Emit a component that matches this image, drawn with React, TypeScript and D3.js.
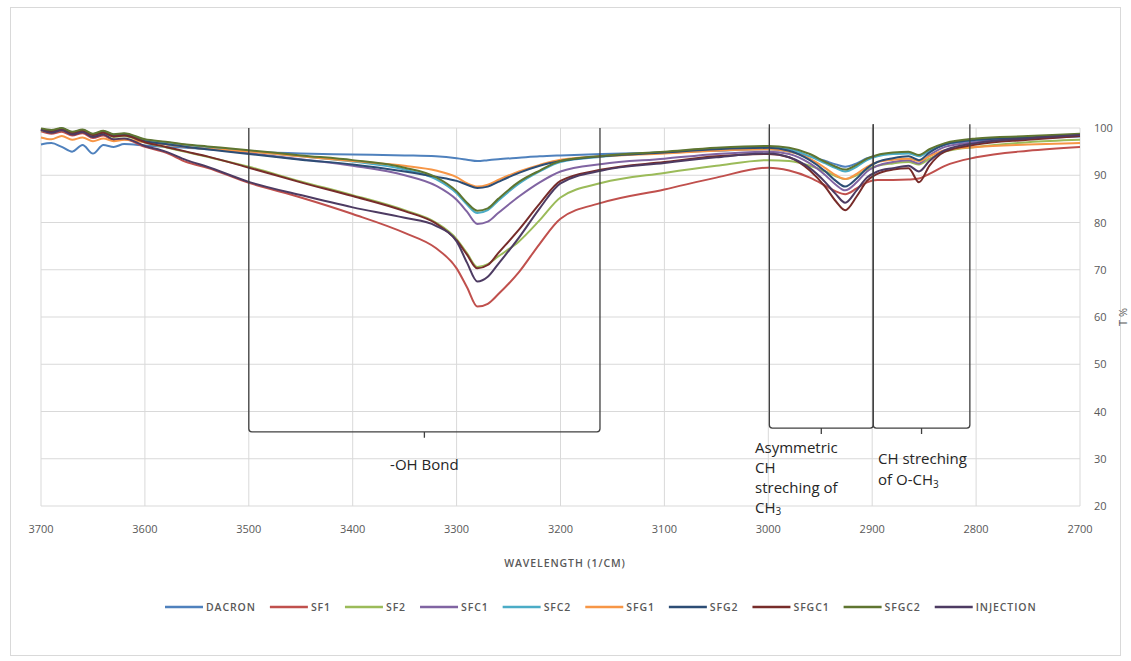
import React from "react";
import * as d3 from "d3";

// Wavenumbers (1/cm) at which the spectra were read
const W = [3700, 3690, 3680, 3670, 3660, 3650, 3640, 3630, 3620,
  3600, 3580, 3560, 3540, 3500,
  3450, 3400, 3350, 3320, 3300,
  3290, 3280, 3270, 3260, 3240,
  3220, 3200, 3160, 3100, 3050,
  3000, 2980, 2960, 2945, 2935,
  2926, 2915, 2905, 2895, 2880,
  2865, 2855, 2845, 2830, 2800,
  2750, 2700];

const DACRON = [96.5, 96.8, 96.0, 95.0, 96.4, 94.6, 96.4, 96.0, 96.6,
  96.3, 96.0, 95.8, 95.5, 95.0,
  94.6, 94.4, 94.2, 94.0, 93.6,
  93.3, 93.0, 93.2, 93.4, 93.7,
  94.0, 94.2, 94.5, 94.8, 95.2,
  95.5, 95.0, 94.0, 93.0, 92.3,
  91.8, 92.5, 93.6, 94.2, 94.6,
  94.7, 94.2, 95.3, 96.5, 97.3,
  97.8, 98.2];
const SF1 = [99.3, 98.8, 99.2, 98.4, 98.9, 97.9, 98.4, 97.4, 97.6,
  96.0, 94.8, 92.8, 91.6, 88.4,
  85.3, 81.8, 77.8, 74.6, 70.3,
  66.3, 62.2, 62.8, 64.8, 69.5,
  75.5, 80.8, 84.2, 87.0, 89.5,
  91.6, 91.0, 89.5, 87.8, 86.6,
  86.0, 87.2, 88.5, 89.0, 89.0,
  89.1, 89.3, 90.3, 92.0, 93.8,
  95.2, 96.0];
const SF2 = [99.5, 99.1, 99.6, 98.8, 99.2, 98.4, 98.9, 98.1, 98.3,
  96.9, 95.9, 94.9, 93.9, 91.8,
  88.7, 85.8, 82.6, 80.0, 76.5,
  73.5, 70.6, 71.2, 72.8, 76.0,
  80.5, 85.3, 88.4, 90.5, 92.0,
  93.2, 93.0, 92.0, 90.8, 89.8,
  89.2, 90.0, 91.2, 92.0, 92.5,
  92.8, 92.3, 93.5, 95.0, 96.0,
  97.0, 97.5];
const SFC1 = [99.6, 99.2, 99.7, 98.9, 99.4, 98.6, 99.1, 98.4, 98.6,
  97.2, 96.6, 96.0, 95.6, 94.7,
  93.4, 92.0, 90.0, 87.8, 84.8,
  82.3, 79.7, 80.2, 82.0, 85.5,
  88.5, 90.8, 92.4, 93.5, 94.5,
  95.0, 94.5, 92.5, 90.0, 88.0,
  86.8, 88.5, 90.8, 92.0, 92.8,
  93.2, 92.5, 94.2, 96.0, 97.0,
  97.8, 98.3];
const SFC2 = [99.7, 99.4, 99.9, 99.1, 99.6, 98.7, 99.3, 98.6, 98.8,
  97.5, 97.0, 96.4, 96.0, 95.1,
  94.0, 92.9, 91.2, 89.2, 86.2,
  83.8, 82.0, 82.6, 84.6, 88.2,
  90.8, 92.8, 93.9, 94.9, 95.6,
  95.8, 95.5, 94.0, 92.5, 91.5,
  90.8, 91.8, 93.2, 94.0, 94.5,
  94.6, 94.0, 95.2, 96.5, 97.5,
  98.0, 98.5];
const SFG1 = [98.0, 97.6, 98.3, 97.5, 98.0, 97.2, 97.8, 97.2, 97.5,
  97.0, 96.5, 96.0, 95.6, 95.0,
  94.0, 93.0, 92.0, 91.0, 89.6,
  88.3, 87.6, 88.0, 89.0, 90.8,
  92.2, 93.3, 94.0, 94.6, 95.2,
  95.5, 95.0, 93.5, 91.5, 90.0,
  89.2, 90.3, 91.8, 92.8, 93.3,
  93.5, 93.0, 94.0, 95.3, 96.0,
  96.5, 96.8];
const SFG2 = [99.8, 99.4, 99.9, 99.0, 99.5, 98.6, 99.2, 98.5, 98.7,
  97.2, 96.6, 96.0, 95.5, 94.5,
  93.3, 92.3, 90.8, 89.7, 88.8,
  88.0, 87.3, 87.6, 88.6, 90.5,
  92.0, 93.0, 94.0, 94.8, 95.5,
  95.8, 95.2, 93.2, 90.8, 88.8,
  87.6, 89.3, 91.5, 92.8, 93.6,
  94.0, 93.2, 94.8, 96.5, 97.5,
  98.0, 98.6];
const SFGC1 = [99.7, 99.3, 99.8, 98.9, 99.4, 98.5, 99.0, 98.2, 98.4,
  97.0, 96.0, 95.0, 94.0, 91.6,
  88.5, 85.6, 82.4, 79.8, 76.2,
  73.2, 70.3, 71.0, 73.5, 78.5,
  84.0, 88.8, 91.2, 92.8, 94.0,
  94.5, 93.8, 91.0, 87.5, 84.5,
  82.6, 85.5, 88.8, 90.3, 91.2,
  91.5, 88.5, 92.0, 95.0, 96.5,
  97.5, 98.3];
const SFGC2 = [99.9, 99.6, 100.0, 99.2, 99.7, 98.8, 99.4, 98.7, 98.9,
  97.6, 97.1, 96.5, 96.1, 95.3,
  94.2, 93.2, 91.6, 89.6, 86.6,
  84.2, 82.5, 83.0, 85.0, 88.6,
  91.0, 93.0, 94.1, 95.0, 95.8,
  96.2, 95.8, 94.5, 92.8, 91.8,
  91.2, 92.2, 93.5, 94.3, 94.8,
  95.0, 94.3, 95.5, 96.8, 97.8,
  98.3, 98.8];
const INJECTION = [99.6, 99.0, 99.5, 98.6, 99.1, 98.1, 98.6, 97.6, 97.8,
  96.2, 95.0, 93.2, 91.8, 88.6,
  85.8, 83.2, 81.0, 79.3, 76.0,
  71.5, 67.5, 68.5, 71.2, 76.8,
  83.0, 88.3, 91.0, 92.6, 93.8,
  94.6, 93.8, 91.5, 88.5, 86.0,
  84.2, 86.8, 89.5, 90.8, 91.5,
  92.0, 90.8, 93.0, 95.3, 96.8,
  97.8, 98.5];

const SERIES_NAMES = ["DACRON", "SF1", "SF2", "SFC1", "SFC2", "SFG1", "SFG2", "SFGC1", "SFGC2", "INJECTION"];
const SERIES_VALUES = [DACRON, SF1, SF2, SFC1, SFC2, SFG1, SFG2, SFGC1, SFGC2, INJECTION];
const SERIES_COLORS = ["#4F81BD", "#C0504D", "#9BBB59", "#8064A2", "#4BACC6", "#F79646", "#2C4D75", "#772C2A", "#5F7530", "#4D3B62"];

const X_TICKS = [3700, 3600, 3500, 3400, 3300, 3200, 3100, 3000, 2900, 2800, 2700];
const Y_TICKS = [20, 30, 40, 50, 60, 70, 80, 90, 100];

// Band brackets: [from, to] in 1/cm, top and bottom in T%
const BRACKETS = [
  { from: 3500, to: 3162, top: 100, bottom: 35.7 },
  { from: 2999, to: 2899, top: 100.8, bottom: 36.5 },
  { from: 2899, to: 2806, top: 100.8, bottom: 36.5 },
];

const W_ = 1131, H_ = 661;
const M = { left: 41, right: 1080, top: 128, bottom: 506 };

function measure(text: string, font: string, spacing: number) {
  const c = document.createElement("canvas").getContext("2d")!;
  c.font = font;
  return c.measureText(text).width + spacing * text.length;
}

export default function App() {
  const x = d3.scaleLinear().domain([3700, 2700]).range([M.left, M.right]);
  const y = d3.scaleLinear().domain([20, 100]).range([M.bottom, M.top]);
  const line = d3.line<number>()
    .x((_, i) => x(W[i]))
    .y((d) => y(d))
    .curve(d3.curveMonotoneX);

  const fontFam = "'Open Sans', 'Liberation Sans', sans-serif";
  const legFont = `600 10.5px 'Open Sans'`;
  const legSpacing = 0.9;
  const lineLen = 38;
  let cx = 165;
  const legendItems = SERIES_NAMES.map((n, i) => {
    const item = { n, i, x: cx };
    cx += lineLen + 3 + measure(n, legFont, legSpacing) + 14;
    return item;
  });

  const bracketPath = (b: typeof BRACKETS[0]) => {
    const x1 = x(b.from), x2 = x(b.to), yt = y(b.top), yb = y(b.bottom);
    const xm = (x1 + x2) / 2, r = 3;
    return `M${x1},${yt} L${x1},${yb - r} Q${x1},${yb} ${x1 + r},${yb} L${x2 - r},${yb} Q${x2},${yb} ${x2},${yb - r} L${x2},${yt} M${xm},${yb} L${xm},${yb + 6}`;
  };

  const annoColor = "#262626";

  return (
    <svg width={W_} height={H_} style={{ position: "absolute", left: 0, top: 0, background: "#fff" }} fontFamily={fontFam}>
      <rect x={10.5} y={7.5} width={1110} height={648} fill="#fff" stroke="#d9d9d9" />
      {/* grid */}
      {Y_TICKS.map((t) => (
        <line key={"gy" + t} x1={M.left} x2={M.right} y1={y(t)} y2={y(t)} stroke="#d9d9d9" strokeWidth={1} />
      ))}
      {X_TICKS.map((t) => (
        <line key={"gx" + t} x1={x(t)} x2={x(t)} y1={M.top} y2={M.bottom} stroke="#d9d9d9" strokeWidth={1} />
      ))}
      {/* series */}
      {SERIES_VALUES.map((vals, i) => (
        <path key={SERIES_NAMES[i]} d={line(vals) || ""} fill="none" stroke={SERIES_COLORS[i]} strokeWidth={2} strokeLinejoin="round" />
      ))}
      {/* brackets */}
      {BRACKETS.map((b, i) => (
        <path key={"br" + i} d={bracketPath(b)} fill="none" stroke="#404040" strokeWidth={1.3} />
      ))}
      {/* tick labels */}
      {X_TICKS.map((t) => (
        <text key={"tx" + t} x={x(t)} y={533} textAnchor="middle" fontSize={11} fill="#595959">{t}</text>
      ))}
      {Y_TICKS.map((t) => (
        <text key={"ty" + t} x={1094} y={y(t) + 4} textAnchor="start" fontSize={11} fill="#595959">{t}</text>
      ))}
      <text transform={`translate(1127,${(M.top + M.bottom) / 2}) rotate(-90)`} textAnchor="middle" fontSize={11} fill="#595959">T %</text>
      <text x={565} y={567} textAnchor="middle" fontSize={10.5} fontWeight={600} letterSpacing={0.9} fill="#595959">WAVELENGTH (1/CM)</text>
      {/* annotations */}
      <text x={(x(BRACKETS[0].from) + x(BRACKETS[0].to)) / 2} y={470} textAnchor="middle" fontSize={15} fill={annoColor}>-OH Bond</text>
      <text x={755} y={453} fontSize={15} fill={annoColor}>
        <tspan x={755} dy={0}>Asymmetric</tspan>
        <tspan x={755} dy={20}>CH</tspan>
        <tspan x={755} dy={20}>streching of</tspan>
        <tspan x={755} dy={20}>CH</tspan><tspan fontSize={10} dy={2}>3</tspan>
      </text>
      <text x={878} y={464} fontSize={15} fill={annoColor}>
        <tspan x={878} dy={0}>CH streching</tspan>
        <tspan x={878} dy={21}>of O-CH</tspan><tspan fontSize={10} dy={3}>3</tspan>
      </text>
      {/* legend */}
      {legendItems.map(({ n, i, x: lx }) => (
        <g key={"lg" + n}>
          <line x1={lx} x2={lx + lineLen} y1={607} y2={607} stroke={SERIES_COLORS[i]} strokeWidth={2.5} />
          <text x={lx + lineLen + 3} y={611} fontSize={10.5} fontWeight={600} letterSpacing={legSpacing} fill="#595959">{n}</text>
        </g>
      ))}
    </svg>
  );
}
